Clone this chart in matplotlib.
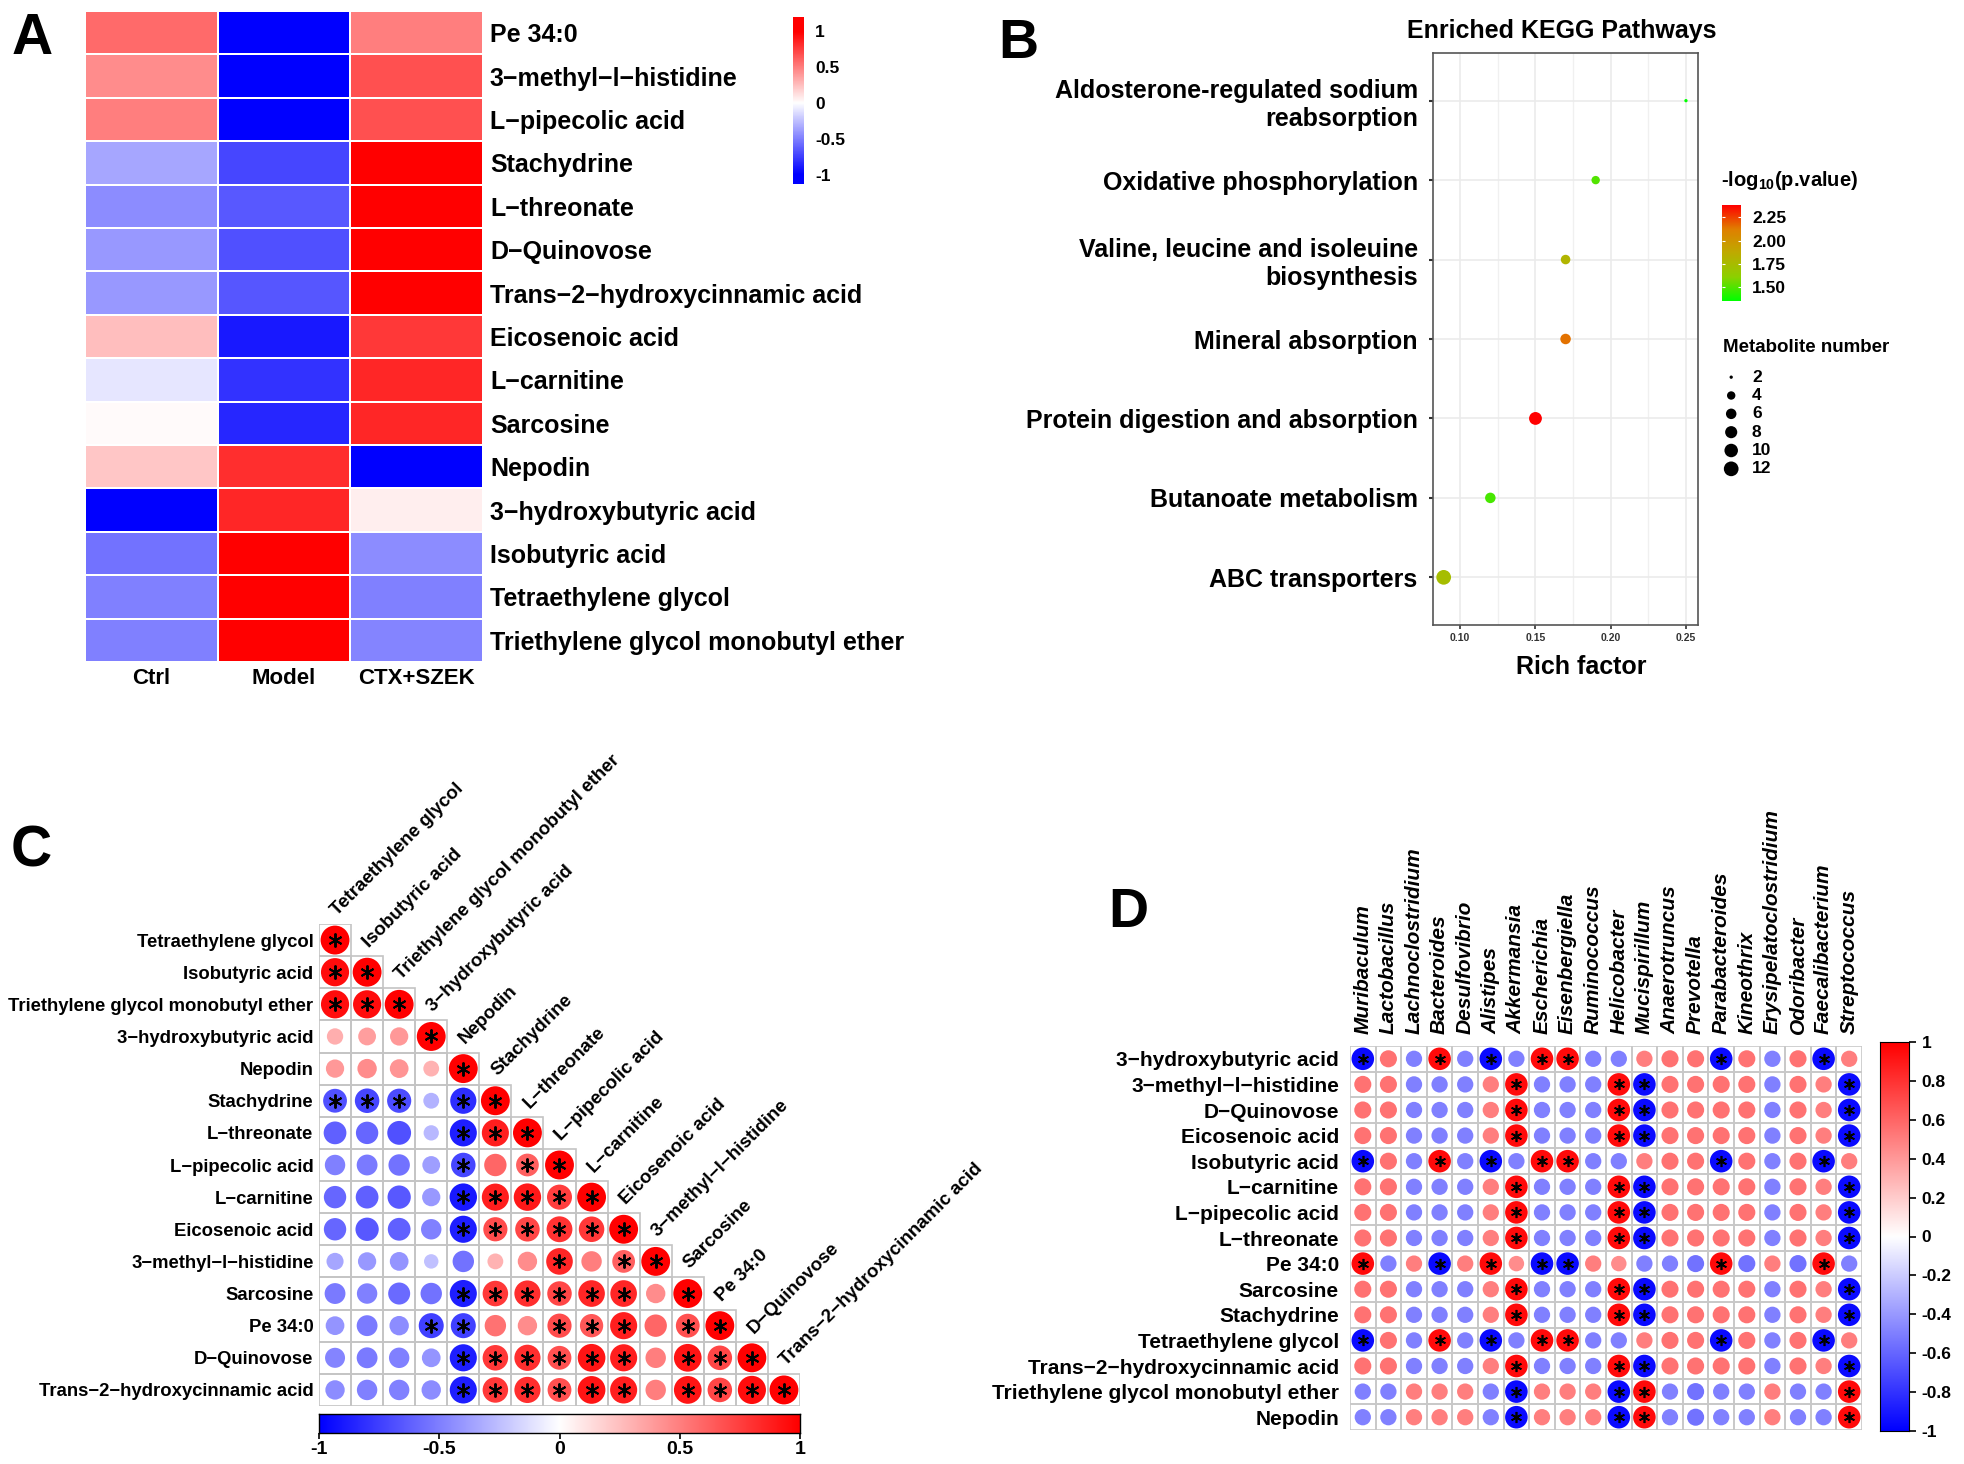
import numpy as np
import matplotlib
matplotlib.use('Agg')
import matplotlib.pyplot as plt
from matplotlib.colors import LinearSegmentedColormap
from matplotlib.patches import Circle, Rectangle

plt.rcParams['font.family'] = ['Liberation Sans', 'DejaVu Sans']
plt.rcParams['font.weight'] = 'bold'
plt.rcParams['axes.unicode_minus'] = False
plt.rcParams['mathtext.fontset'] = 'custom'
plt.rcParams['mathtext.rm'] = 'Liberation Sans:bold'
plt.rcParams['mathtext.bf'] = 'Liberation Sans:bold'
plt.rcParams['mathtext.default'] = 'bf'

# ---------------- panel A : heatmap of metabolites ----------------
heat_rows = ['Pe 34:0', '3\u2212methyl\u2212l\u2212histidine', 'L\u2212pipecolic acid', 'Stachydrine',
             'L\u2212threonate', 'D\u2212Quinovose', 'Trans\u22122\u2212hydroxycinnamic acid',
             'Eicosenoic acid', 'L\u2212carnitine', 'Sarcosine', 'Nepodin',
             '3\u2212hydroxybutyric acid', 'Isobutyric acid', 'Tetraethylene glycol',
             'Triethylene glycol monobutyl ether']
heat_groups = ['Ctrl', 'Model', 'CTX+SZEK']
heat_ctrl = [0.58, 0.45, 0.5, -0.35, -0.45, -0.4, -0.4, 0.25, -0.1, 0.02, 0.22, -1.0, -0.55, -0.5, -0.5]
heat_model = [-1.0, -1.0, -1.0, -0.72, -0.65, -0.68, -0.66, -0.9, -0.8, -0.85, 0.82, 0.85, 1.0, 1.0, 1.0]
heat_ctx = [0.5, 0.68, 0.68, 1.0, 1.0, 1.0, 1.0, 0.78, 0.85, 0.85, -1.0, 0.07, -0.45, -0.5, -0.48]

# ---------------- panel B : KEGG enrichment ----------------
kegg_paths = ['Aldosterone-regulated sodium\nreabsorption', 'Oxidative phosphorylation',
              'Valine, leucine and isoleuine\nbiosynthesis', 'Mineral absorption',
              'Protein digestion and absorption', 'Butanoate metabolism', 'ABC transporters']
kegg_rich = [0.25, 0.19, 0.17, 0.17, 0.15, 0.12, 0.089]
kegg_logp = [1.35, 1.50, 1.80, 2.15, 2.38, 1.48, 1.74]
kegg_count = [2, 4, 5, 6, 9, 6, 12]
kegg_cbar_ticks = [1.50, 1.75, 2.00, 2.25]
kegg_size_legend = [2, 4, 6, 8, 10, 12]

# ---------------- panel C : metabolite correlation (lower triangle) ----------------
corr_names = ['Tetraethylene glycol', 'Isobutyric acid', 'Triethylene glycol monobutyl ether',
              '3\u2212hydroxybutyric acid', 'Nepodin', 'Stachydrine', 'L\u2212threonate',
              'L\u2212pipecolic acid', 'L\u2212carnitine', 'Eicosenoic acid',
              '3\u2212methyl\u2212l\u2212histidine', 'Sarcosine', 'Pe 34:0', 'D\u2212Quinovose',
              'Trans\u22122\u2212hydroxycinnamic acid']
corr_lower = [
    [1],
    [0.95, 1],
    [0.95, 0.95, 1],
    [0.32, 0.38, 0.40, 1],
    [0.40, 0.45, 0.42, 0.30, 1],
    [-0.68, -0.72, -0.70, -0.30, -0.82, 1],
    [-0.62, -0.60, -0.68, -0.28, -0.88, 0.88, 1],
    [-0.50, -0.52, -0.55, -0.38, -0.72, 0.60, 0.62, 1],
    [-0.60, -0.62, -0.65, -0.40, -0.90, 0.88, 0.90, 0.75, 1],
    [-0.60, -0.65, -0.62, -0.50, -0.88, 0.70, 0.72, 0.80, 0.78, 1],
    [-0.35, -0.40, -0.42, -0.25, -0.55, 0.30, 0.45, 0.85, 0.50, 0.62, 1],
    [-0.52, -0.50, -0.58, -0.55, -0.88, 0.78, 0.82, 0.72, 0.85, 0.85, 0.45, 1],
    [-0.42, -0.52, -0.45, -0.75, -0.75, 0.55, 0.45, 0.70, 0.65, 0.88, 0.60, 0.68, 1],
    [-0.48, -0.52, -0.50, -0.42, -0.88, 0.78, 0.82, 0.68, 0.92, 0.88, 0.50, 0.92, 0.72, 1],
    [-0.45, -0.50, -0.50, -0.45, -0.88, 0.78, 0.82, 0.68, 0.92, 0.88, 0.50, 0.92, 0.72, 0.95, 1],
]
corr_sig = ['1', '11', '111', '0001', '00001', '111011', '0000111', '00001011', '000011111',
            '0000111111', '00000001011', '000011111101', '0001100111011', '00001111110111',
            '000011111101111']

# ---------------- panel D : metabolite vs genus correlation ----------------
bac_names = ['Muribaculum', 'Lactobacillus', 'Lachnoclostridium', 'Bacteroides', 'Desulfovibrio',
             'Alistipes', 'Akkermansia', 'Escherichia', 'Eisenbergiella', 'Ruminococcus',
             'Helicobacter', 'Mucispirillum', 'Anaerotruncus', 'Prevotella', 'Parabacteroides',
             'Kineothrix', 'Erysipelatoclostridium', 'Odoribacter', 'Faecalibacterium', 'Streptococcus']
met_names = ['3\u2212hydroxybutyric acid', '3\u2212methyl\u2212l\u2212histidine', 'D\u2212Quinovose',
             'Eicosenoic acid', 'Isobutyric acid', 'L\u2212carnitine', 'L\u2212pipecolic acid',
             'L\u2212threonate', 'Pe 34:0', 'Sarcosine', 'Stachydrine', 'Tetraethylene glycol',
             'Trans\u22122\u2212hydroxycinnamic acid', 'Triethylene glycol monobutyl ether', 'Nepodin']
bac_corr = [
    [-0.96, 0.55, -0.5, 0.96, -0.5, -0.96, -0.5, 0.96, 0.96, -0.5, -0.5, 0.5, 0.55, 0.55, -0.96, 0.55, -0.5, 0.55, -0.96, 0.5],
    [0.55, 0.55, -0.5, -0.5, -0.5, 0.5, 0.96, -0.5, -0.5, -0.5, 0.96, -0.96, 0.55, 0.55, 0.55, 0.55, -0.5, 0.55, 0.5, -0.96],
    [0.55, 0.55, -0.5, -0.5, -0.5, 0.5, 0.96, -0.5, -0.5, -0.5, 0.96, -0.96, 0.55, 0.55, 0.55, 0.55, -0.5, 0.55, 0.5, -0.96],
    [0.55, 0.55, -0.5, -0.5, -0.5, 0.5, 0.96, -0.5, -0.5, -0.5, 0.96, -0.96, 0.55, 0.55, 0.55, 0.55, -0.5, 0.55, 0.5, -0.96],
    [-0.96, 0.55, -0.5, 0.96, -0.5, -0.96, -0.5, 0.96, 0.96, -0.5, -0.5, 0.5, 0.55, 0.55, -0.96, 0.55, -0.5, 0.55, -0.96, 0.5],
    [0.55, 0.55, -0.5, -0.5, -0.5, 0.5, 0.96, -0.5, -0.5, -0.5, 0.96, -0.96, 0.55, 0.55, 0.55, 0.55, -0.5, 0.55, 0.5, -0.96],
    [0.55, 0.55, -0.5, -0.5, -0.5, 0.5, 0.96, -0.5, -0.5, -0.5, 0.96, -0.96, 0.55, 0.55, 0.55, 0.55, -0.5, 0.55, 0.5, -0.96],
    [0.55, 0.55, -0.5, -0.5, -0.5, 0.5, 0.96, -0.5, -0.5, -0.5, 0.96, -0.96, 0.55, 0.55, 0.55, 0.55, -0.5, 0.55, 0.5, -0.96],
    [0.96, -0.5, 0.5, -0.96, 0.5, 0.96, 0.45, -0.96, -0.96, 0.5, 0.45, -0.5, -0.5, -0.55, 0.96, -0.55, 0.5, -0.55, 0.96, -0.5],
    [0.55, 0.55, -0.5, -0.5, -0.5, 0.5, 0.96, -0.5, -0.5, -0.5, 0.96, -0.96, 0.55, 0.55, 0.55, 0.55, -0.5, 0.55, 0.5, -0.96],
    [0.55, 0.55, -0.5, -0.5, -0.5, 0.5, 0.96, -0.5, -0.5, -0.5, 0.96, -0.96, 0.55, 0.55, 0.55, 0.55, -0.5, 0.55, 0.5, -0.96],
    [-0.96, 0.55, -0.5, 0.96, -0.5, -0.96, -0.5, 0.96, 0.96, -0.5, -0.5, 0.5, 0.55, 0.55, -0.96, 0.55, -0.5, 0.55, -0.96, 0.5],
    [0.55, 0.55, -0.5, -0.5, -0.5, 0.5, 0.96, -0.5, -0.5, -0.5, 0.96, -0.96, 0.55, 0.55, 0.55, 0.55, -0.5, 0.55, 0.5, -0.96],
    [-0.5, -0.5, 0.5, 0.5, 0.5, -0.5, -0.96, 0.5, 0.5, 0.5, -0.96, 0.96, -0.5, -0.55, -0.5, -0.5, 0.5, -0.5, -0.5, 0.96],
    [-0.5, -0.5, 0.5, 0.5, 0.5, -0.5, -0.96, 0.5, 0.5, 0.5, -0.96, 0.96, -0.5, -0.55, -0.5, -0.5, 0.5, -0.5, -0.5, 0.96],
]
bac_cbar_ticks = [-1, -0.8, -0.6, -0.4, -0.2, 0, 0.2, 0.4, 0.6, 0.8, 1]

W, H = 1965, 1464
fig = plt.figure(figsize=(W / 100, H / 100), dpi=100)


def px_axes(x0, y0, x1, y1):
    # axes from a pixel box (top-left origin)
    return fig.add_axes([x0 / W, 1 - y1 / H, (x1 - x0) / W, (y1 - y0) / H])


bwr = LinearSegmentedColormap.from_list('bwr2', ['#0000FF', '#FFFFFF', '#FF0000'])
gr = LinearSegmentedColormap.from_list('gr', ['#00FF00', '#8DD000', '#BEAB00', '#E07F00', '#FF0000'])

# panel letters
for lab, x, yb, fs in [('A', 12, 54, 41), ('B', 998, 58, 40), ('C', 11, 866, 41), ('D', 1108, 927, 40)]:
    fig.text(x / W, 1 - yb / H, lab, fontsize=fs, fontweight='bold', va='baseline', ha='left')

# ---------------- A ----------------
axA = px_axes(85, 11, 483, 662)
heat = np.column_stack([heat_ctrl, heat_model, heat_ctx])
axA.pcolormesh(heat, cmap=bwr, vmin=-1, vmax=1, edgecolors='white', linewidth=1.2)
axA.set_xlim(0, len(heat_groups))
axA.set_ylim(len(heat_rows), 0)
axA.set_xticks(np.arange(len(heat_groups)) + 0.5)
axA.set_xticklabels(heat_groups, fontsize=16)
axA.set_yticks(np.arange(len(heat_rows)) + 0.5)
axA.set_yticklabels(heat_rows, fontsize=18)
axA.yaxis.tick_right()
axA.tick_params(axis='y', length=0, pad=5)
axA.tick_params(axis='x', length=0, pad=4)
for s in axA.spines.values():
    s.set_visible(False)

caxA = px_axes(793, 17, 804, 184)
caxA.imshow(np.linspace(-1.13, 1.2, 256).reshape(-1, 1), aspect='auto', cmap=bwr, vmin=-1, vmax=1,
            origin='lower', extent=[0, 1, -1.13, 1.2])
caxA.set_xticks([])
caxA.yaxis.tick_right()
caxA.set_yticks([1, 0.5, 0, -0.5, -1])
caxA.set_yticklabels(['1', '0.5', '0', '-0.5', '-1'], fontsize=12.5)
caxA.tick_params(length=0, pad=8)
for s in caxA.spines.values():
    s.set_visible(False)

# ---------------- B ----------------
axB = px_axes(1433, 53, 1698, 625)
ypos = np.arange(len(kegg_paths), 0, -1)


def dot_size(n):
    d_px = 3.3 + 11.4 * np.sqrt((np.asarray(n, float) - 2) / 10)
    return (d_px * 0.72) ** 2


axB.scatter(kegg_rich, ypos, s=dot_size(kegg_count), c=kegg_logp, cmap=gr, vmin=1.349, vmax=2.383,
            edgecolors='none', zorder=3)
axB.set_xlim(0.0819, 0.258)
axB.set_ylim(0.4, len(kegg_paths) + 0.6)
axB.set_xticks([0.10, 0.15, 0.20, 0.25])
axB.set_xticklabels(['0.10', '0.15', '0.20', '0.25'], fontsize=7.5, color='#333333')
axB.set_xticks([0.125, 0.175, 0.225], minor=True)
axB.set_yticks(ypos)
axB.set_yticklabels(kegg_paths, fontsize=18)
for t in axB.get_yticklabels():
    t.set_multialignment('right')
axB.grid(True, which='major', color='#EBEBEB', lw=1.2)
axB.grid(True, which='minor', axis='x', color='#F0F0F0', lw=1.0)
axB.set_axisbelow(True)
axB.tick_params(axis='y', length=3, width=1.5, color='#333333', pad=8)
axB.tick_params(axis='x', which='major', length=3, width=1.2, color='#333333', pad=3)
axB.tick_params(axis='x', which='minor', length=0)
for s in axB.spines.values():
    s.set_color('#555555')
    s.set_linewidth(1.2)
fig.text(1562 / W, 1 - 31 / H, 'Enriched KEGG Pathways', fontsize=18, ha='center', va='center')
fig.text(1581 / W, 1 - 667 / H, 'Rich factor', fontsize=18, ha='center', va='center')

caxB = px_axes(1722, 205, 1741, 301)
caxB.imshow(np.linspace(1.349, 2.383, 256).reshape(-1, 1), aspect='auto', cmap=gr, vmin=1.349,
            vmax=2.383, origin='lower', extent=[0, 1, 1.349, 2.383])
caxB.hlines(kegg_cbar_ticks, 0, 0.18, color='white', lw=0.8)
caxB.hlines(kegg_cbar_ticks, 0.82, 1, color='white', lw=0.8)
caxB.set_xlim(0, 1)
caxB.set_xticks([])
caxB.yaxis.tick_right()
caxB.set_yticks(kegg_cbar_ticks)
caxB.set_yticklabels(['%.2f' % v for v in kegg_cbar_ticks], fontsize=12.5)
caxB.tick_params(length=0, pad=8)
for s in caxB.spines.values():
    s.set_visible(False)
fig.text(1721 / W, 1 - 181 / H, r'-log$_{10}$(p.value)', fontsize=14.5, ha='left', va='center')
fig.text(1723 / W, 1 - 348 / H, 'Metabolite number', fontsize=13.5, ha='left', va='center')

axS = px_axes(1720, 368, 1800, 478)
sy = np.arange(len(kegg_size_legend))
axS.scatter(np.full(len(sy), 0.14), sy, s=dot_size(kegg_size_legend), c='black', edgecolors='none')
for k, v in zip(sy, kegg_size_legend):
    axS.text(0.40, k, str(v), fontsize=12.5, va='center', ha='left')
axS.set_xlim(0, 1)
axS.set_ylim(len(sy) - 0.5, -0.5)
axS.axis('off')

# ---------------- C ----------------
axC = px_axes(319, 924, 800, 1406)
nC = len(corr_names)
for i, row in enumerate(corr_lower):
    for j, r in enumerate(row):
        axC.add_patch(Rectangle((j, i), 1, 1, fill=False, ec='#C4C4C4', lw=1.2))
        axC.add_patch(Circle((j + 0.5, i + 0.5), 0.45 * np.sqrt(abs(r)), fc=bwr((r + 1) / 2), ec='none'))
        if corr_sig[i][j] == '1':
            axC.plot(j + 0.5, i + 0.5, marker=(6, 2, 0), ms=10, mew=1.4, color='black')
axC.set_xlim(0, nC)
axC.set_ylim(nC, 0)
axC.set_xticks([])
axC.set_yticks(np.arange(nC) + 0.5)
axC.set_yticklabels(corr_names, fontsize=13.3)
axC.tick_params(axis='y', length=0, pad=4)
for s in axC.spines.values():
    s.set_visible(False)
for j, name in enumerate(corr_names):
    axC.text(j + 0.56, j - 0.25, name, rotation=45, rotation_mode='anchor', ha='left', va='baseline',
             fontsize=13.5, clip_on=False)

caxC = px_axes(319, 1414, 800, 1433)
caxC.imshow(np.linspace(-1, 1, 256).reshape(1, -1), aspect='auto', cmap=bwr, vmin=-1, vmax=1,
            extent=[-1, 1, 0, 1])
caxC.set_yticks([])
caxC.set_xticks([-1, -0.5, 0, 0.5, 1])
caxC.set_xticklabels(['-1', '-0.5', '0', '0.5', '1'], fontsize=14)
caxC.tick_params(axis='x', length=4, width=1.2, pad=2)
for s in caxC.spines.values():
    s.set_linewidth(1.0)

# ---------------- D ----------------
axD = px_axes(1350, 1046, 1862, 1430)
nr, nc = len(met_names), len(bac_names)
for i in range(nr):
    for j in range(nc):
        r = bac_corr[i][j]
        axD.add_patch(Rectangle((j, i), 1, 1, fill=False, ec='#C8C8C8', lw=1.2))
        axD.add_patch(Circle((j + 0.5, i + 0.5), 0.45 * np.sqrt(abs(r)), fc=bwr((r + 1) / 2), ec='none'))
        if abs(r) > 0.9:
            axD.plot(j + 0.5, i + 0.5, marker=(6, 2, 0), ms=8, mew=1.2, color='black')
axD.set_xlim(0, nc)
axD.set_ylim(nr, 0)
axD.xaxis.tick_top()
axD.set_xticks(np.arange(nc) + 0.5)
axD.set_xticklabels(bac_names, rotation=90, fontsize=15, style='italic')
axD.set_yticks(np.arange(nr) + 0.5)
axD.set_yticklabels(met_names, fontsize=15)
axD.tick_params(axis='x', length=0, pad=9)
axD.tick_params(axis='y', length=0, pad=8)
for s in axD.spines.values():
    s.set_visible(False)

caxD = px_axes(1880, 1042, 1909, 1431)
caxD.imshow(np.linspace(-1, 1, 256).reshape(-1, 1), aspect='auto', cmap=bwr, vmin=-1, vmax=1,
            origin='lower', extent=[0, 1, -1, 1])
caxD.set_xticks([])
caxD.yaxis.tick_right()
caxD.set_yticks(bac_cbar_ticks)
caxD.set_yticklabels(['%g' % v for v in bac_cbar_ticks], fontsize=12.5)
caxD.tick_params(axis='y', length=5, width=1.2, pad=4)

fig.savefig('out.png', dpi=100)
